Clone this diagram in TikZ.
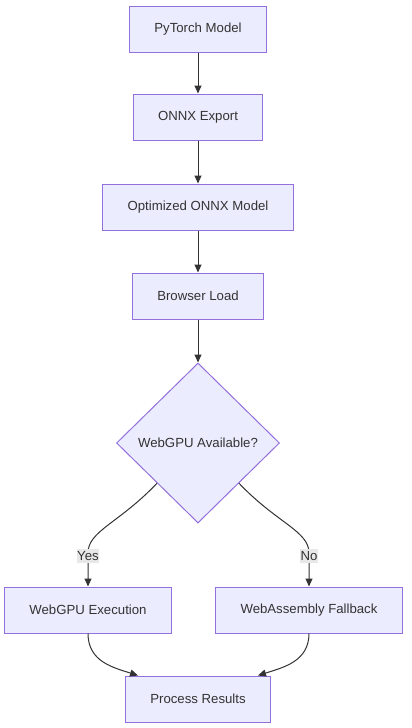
\documentclass[tikz,border=0pt]{standalone}
\usepackage{fontspec}
\setmainfont{Liberation Sans}
\usetikzlibrary{shapes.geometric,arrows.meta}
\definecolor{boxfill}{HTML}{ECECFF}
\definecolor{boxline}{HTML}{9370DB}
\definecolor{ink}{HTML}{333333}
\definecolor{lblfill}{HTML}{E8E8E8}
\tikzset{
  stepbox/.style={draw=boxline, fill=boxfill, line width=1pt, rectangle,
    minimum height=46pt, inner xsep=25pt, inner ysep=0pt, text=ink,
    font=\fontsize{13.2pt}{15pt}\selectfont},
  decision/.style={draw=boxline, fill=boxfill, line width=1pt, diamond,
    aspect=1, minimum width=163pt, minimum height=160pt, inner sep=0pt,
    text=ink, font=\fontsize{13.2pt}{15pt}\selectfont},
  conn/.style={draw=ink, line width=1pt, -{Triangle[length=8pt,width=7pt]}},
  edgelbl/.style={fill=lblfill, inner xsep=0.5pt, inner ysep=2pt, text=ink,
    font=\fontsize{13.2pt}{15pt}\selectfont}
}
\begin{document}
\begin{tikzpicture}[x=1pt,y=-1pt]
\useasboundingbox[fill=white] (0,0) rectangle (412,728);
\node[stepbox] (pt) at (198,29) {PyTorch Model};
\node[stepbox] (ox) at (198,117) {ONNX Export};
\node[stepbox] (opt) at (198,207) {Optimized ONNX Model};
\node[stepbox] (bl) at (198,296) {Browser Load};
\node[decision] (dia) at (198,443) {WebGPU Available?};
\node[stepbox] (gpu) at (88,610) {WebGPU Execution};
\node[stepbox] (wasm) at (309,610) {WebAssembly Fallback};
\node[stepbox] (pr) at (198,699) {Process Results};
\coordinate (ybend) at (88,553);
\coordinate (nbend) at (309,553);

\draw[conn] (pt) -- (ox);
\draw[conn] (ox) -- (opt);
\draw[conn] (opt) -- (bl);
\draw[conn] (bl) -- (dia.north);
\draw[conn] (dia.south west) .. controls +(-38,40) and +(0,-22) .. (ybend) -- (gpu.north);
\draw[conn] (dia.south east) .. controls +(38,40) and +(0,-22) .. (nbend) -- (wasm.north);
\node[edgelbl] (yes) at (88,556) {Yes};
\node[edgelbl] (no) at (309,556) {No};
\draw[conn] (gpu.south) .. controls +(0,28) and +(-25,-8) .. ([xshift=-60pt]pr.north);
\draw[conn] (wasm.south) .. controls +(0,28) and +(25,-8) .. ([xshift=60pt]pr.north);
\end{tikzpicture}
\end{document}
